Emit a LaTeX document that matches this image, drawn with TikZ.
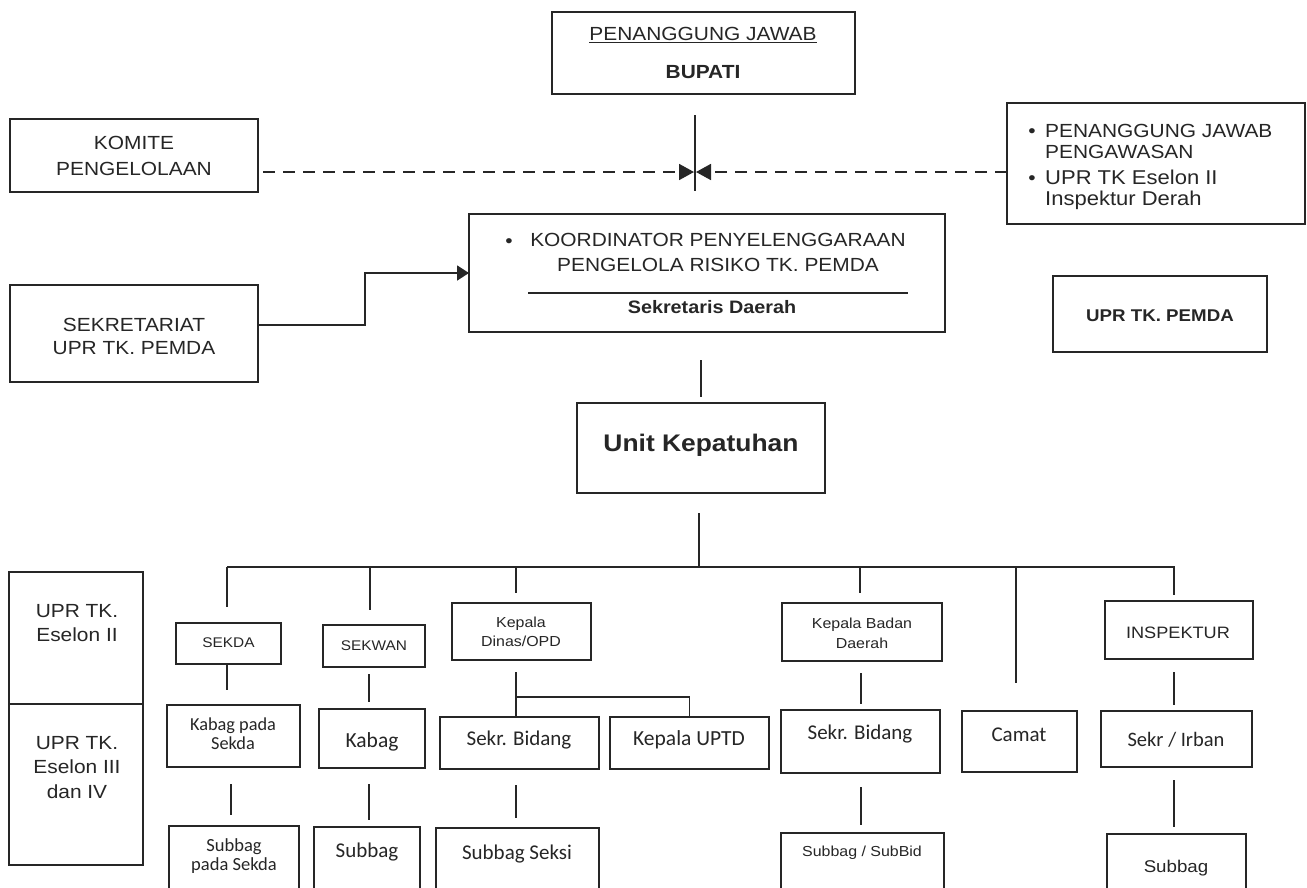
\documentclass[tikz,border=0pt]{standalone}
\usepackage{fontspec}
\setmainfont{Liberation Sans}[FakeStretch=1.1]
\newfontfamily\calfont{Carlito}
\usetikzlibrary{arrows.meta,calc}
\newcommand\setfz[2]{\fontsize{#1}{#2}\selectfont}
\newcommand\bx[5]{\node[bx, minimum width={#4-#2}, minimum height={#5-#3}] (#1) at ({(#2+#4)/2},{(#3+#5)/2}) {};}
\tikzset{
  bx/.style={draw=black!85, line width=1.8pt, inner sep=0pt, outer sep=0pt},
  ln/.style={draw=black!85, line width=1.8pt},
  t/.style={inner sep=0pt, align=center, text=black!85},
  tip/.style={-{Triangle[length=15pt,width=16pt]}},
  sdash/.style={dash pattern=on 12pt off 8pt},
}
\begin{document}
\begin{tikzpicture}[x=1pt,y=-1pt]
\useasboundingbox (0,0) rectangle (1307,887);
\fill[white] (0,0) rectangle (1307,887);
\clip (0,0) rectangle (1307,887);

% boxes
\bx{topbox}{552}{12}{855}{94}
\bx{komite}{10}{119}{258}{192}
\bx{rbox}{1007}{103}{1305}{224}
\bx{koord}{469}{214}{945}{332}
\bx{upr}{1053}{276}{1267}{352}
\bx{sek}{10}{285}{258}{382}
\bx{unit}{577}{403}{825}{493}
\bx{eselon2}{9}{572}{143}{704}
\bx{eselon34}{9}{704}{143}{865}
\bx{sekda}{176}{623}{281}{664}
\bx{kabag1}{167}{705}{300}{767}
\bx{subbag1}{169}{826}{299}{900}
\bx{sekwan}{323}{625}{425}{667}
\bx{kabag2}{319}{709}{425}{768}
\bx{subbag2}{314}{827}{420}{900}
\bx{kdinas}{452}{603}{591}{660}
\bx{sekrb1}{440}{717}{599}{769}
\bx{subseksi}{436}{828}{599}{900}
\bx{kuptd}{610}{717}{769}{769}
\bx{kbadan}{782}{603}{942}{661}
\bx{sekrb2}{781}{710}{940}{773}
\bx{subbid}{781}{833}{944}{900}
\bx{camat}{962}{711}{1077}{772}
\bx{insp}{1105}{601}{1253}{659}
\bx{irban}{1101}{711}{1252}{767}
\bx{subbag3}{1107}{834}{1246}{900}

% texts
\node[t, font=\setfz{19}{24}] (topbox-t1) at (703,35) {\underline{PENANGGUNG JAWAB}};
\node[t, font=\setfz{19}{24}\bfseries] (topbox-t2) at (703,72) {BUPATI};
\node[t, font=\setfz{19}{26}] (komite-t) at (134,156) {KOMITE\\PENGELOLAAN};
\node[t, anchor=base, font=\setfz{19}{24}] (rb-b1) at (1032,137) {\textbullet};
\node[t, anchor=base west, font=\setfz{19}{24}] (rb-1) at (1045,137) {PENANGGUNG JAWAB};
\node[t, anchor=base west, font=\setfz{19}{24}] (rb-2) at (1045,158) {PENGAWASAN};
\node[t, anchor=base, font=\setfz{19}{24}] (rb-b2) at (1032,184) {\textbullet};
\node[t, anchor=base west, font=\setfz{20}{24}] (rb-3) at (1045,184) {UPR TK Eselon II};
\node[t, anchor=base west, font=\setfz{20}{24}] (rb-4) at (1045,205) {Inspektur Derah};
\node[t, anchor=base, font=\setfz{19}{24}] (koord-b) at (509,247) {\textbullet};
\node[t, font=\setfz{19}{25}] (koord-t) at (718,252.5) {KOORDINATOR PENYELENGGARAAN\\PENGELOLA RISIKO TK. PEMDA};
\node[t, font=\setfz{18}{22}\bfseries] (koord-t2) at (712,307) {Sekretaris Daerah};
\node[t, font=\setfz{17}{22}\bfseries] (upr-t) at (1160,316) {UPR TK. PEMDA};
\node[t, font=\setfz{19}{23}] (sek-t) at (134,336.5) {SEKRETARIAT\\UPR TK. PEMDA};
\node[t, font=\setfz{24}{28}\bfseries] (unit-t) at (701,445) {Unit Kepatuhan};
\node[t, font=\setfz{19}{24}] (eselon2-t) at (77,623.5) {UPR TK.\\Eselon II};
\node[t, font=\setfz{19}{24.5}] (eselon34-t) at (77,767.5) {UPR TK.\\Eselon III\\dan IV};
\node[t, font=\setfz{14}{18}] (sekda-t) at (228.5,643) {SEKDA};
\node[t, font=\setfz{14}{18}] (sekwan-t) at (374,646) {SEKWAN};
\node[t, font=\setfz{14.5}{19}] (kdinas-t) at (521,632) {Kepala\\Dinas/OPD};
\node[t, font=\setfz{14.5}{20}] (kbadan-t) at (862,633) {Kepala Badan\\Daerah};
\node[t, font=\setfz{16.5}{20}] (insp-t) at (1178,633) {INSPEKTUR};
\node[t, font=\calfont\setfz{18.3}{19}] (kabag1-t) at (233,734) {Kabag pada\\Sekda};
\node[t, font=\calfont\setfz{21.5}{24}] (kabag2-t) at (372,742) {Kabag};
\node[t, font=\calfont\setfz{21}{24}] (sekrb1-t) at (519,740) {Sekr. Bidang};
\node[t, font=\calfont\setfz{21.5}{24}] (kuptd-t) at (689,740) {Kepala UPTD};
\node[t, font=\calfont\setfz{18.5}{18.5}] (subbag1-t) at (234,856) {Subbag\\pada Sekda};
\node[t, font=\calfont\setfz{21}{24}] (subbag2-t) at (367,852) {Subbag};
\node[t, font=\calfont\setfz{21}{24}] (subseksi-t) at (517,854) {Subbag Seksi};
\node[t, font=\calfont\setfz{21}{24}] (sekrb2-t) at (860,734) {Sekr. Bidang};
\node[t, font=\calfont\setfz{21}{24}] (camat-t) at (1019,735) {Camat};
\node[t, font=\calfont\setfz{20.5}{24}] (irban-t) at (1176,740) {Sekr / Irban};
\node[t, font=\setfz{14.5}{18}] (subbid-t) at (862,853) {Subbag / SubBid};
\node[t, font=\setfz{17}{20}] (subbag3-t) at (1176,868) {Subbag};

% top connectors
\coordinate (meet) at (695,172);
\draw[ln] ($(meet)+(0,-57)$) -- ($(meet)+(0,19)$);
\draw[ln, sdash, tip] ($(komite.east |- meet)+(5,0)$) -- ($(meet)+(-1,0)$);
\draw[ln, sdash, tip] (rbox.west |- meet) -- ($(meet)+(1,0)$);
\draw[ln, -{Triangle[length=12pt,width=15pt]}] ($(sek.east)+(0,-8.5)$) -- ++(107,0) |- (koord.west);
\draw[line width=1.4pt, black!85] ($(koord.west)+(59,20)$) -- ++(380,0);
\draw[ln] ($(unit.north)+(0,-43)$) -- ($(unit.north)+(0,-6)$);
\coordinate (bus) at (227,567);
\coordinate (busR) at (1175,567);
\draw[ln] ($(unit.south)+(-2,20)$) -- ($(unit.south |- bus)+(-2,0)$);
\draw[ln] (bus) -- (busR);

% drops from bus
\draw[ln] ($(sekda.north |- bus)+(-1.5,0)$) -- ++(0,40);
\draw[ln] ($(sekwan.north |- bus)+(-4,0)$) -- ++(0,43);
\draw[ln] ($(kdinas.north |- bus)+(-5.5,0)$) -- ++(0,26);
\draw[ln] ($(kbadan.north |- bus)+(-2,0)$) -- ++(0,26);
\draw[ln] ($(camat.north |- bus)+(-3.5,0)$) -- ++(0,116);
\draw[ln] ($(insp.north |- bus)+(-5,0)$) -- ++(0,28);

% vertical chains
\draw[ln] ($(sekda.south)+(-1.5,1)$) -- ++(0,25);
\draw[ln] ($(kabag1.south)+(-2.5,17)$) -- ++(0,31);
\draw[ln] ($(sekwan.south)+(-5,7)$) -- ++(0,28);
\draw[ln] ($(kabag2.south)+(-3,16)$) -- ++(0,36);
\draw[ln] ($(kdinas.south)+(-5.5,12)$) -- ++(0,45);
\coordinate (branch) at (516,697);
\draw[ln] (branch) -| (kuptd.north);
\draw[ln] ($(sekrb1.south)+(-3.5,16)$) -- ++(0,33);
\draw[ln] ($(kbadan.south)+(-1,12)$) -- ++(0,31);
\draw[ln] ($(sekrb2.south)+(0.5,14)$) -- ++(0,38);
\draw[ln] ($(insp.south)+(-5,13)$) -- ++(0,33);
\draw[ln] ($(irban.south)+(-2.5,13)$) -- ++(0,47);
\end{tikzpicture}
\end{document}
